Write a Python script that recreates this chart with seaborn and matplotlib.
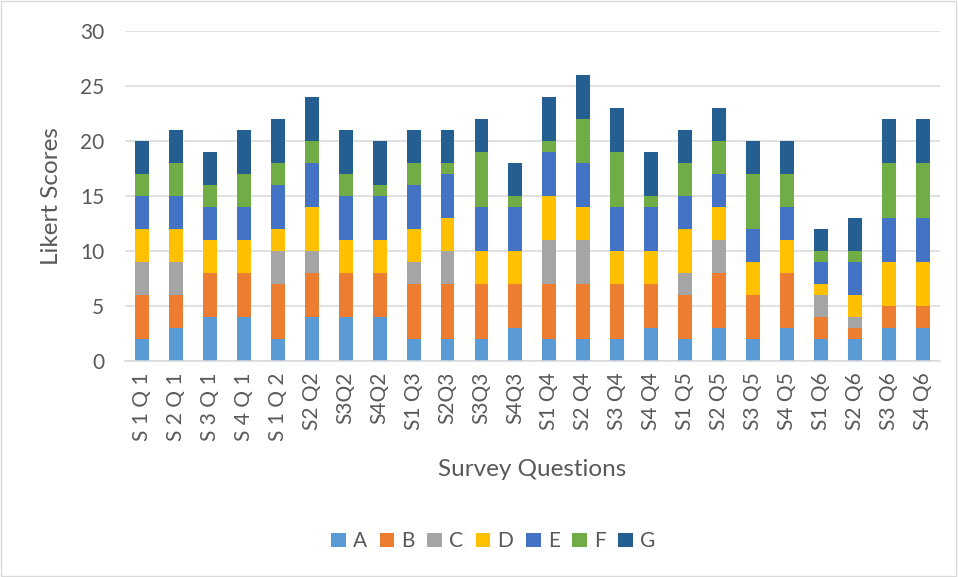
import matplotlib
matplotlib.use("Agg")
import matplotlib.pyplot as plt
import seaborn as sns
import numpy as np
import pandas as pd
from matplotlib.patches import Rectangle

categories = ["S 1 Q 1", "S 2 Q 1", "S 3 Q 1", "S 4 Q 1", "S 1 Q 2", "S2 Q2", "S3Q2", "S4Q2",
              "S1 Q3", "S2Q3", "S3Q3", "S4Q3", "S1 Q4", "S2 Q4", "S3 Q4", "S4 Q4",
              "S1 Q5", "S2 Q5", "S3 Q5", "S4 Q5", "S1 Q6", "S2 Q6", "S3 Q6", "S4 Q6"]

A = [2, 3, 4, 4, 2, 4, 4, 4, 2, 2, 2, 3, 2, 2, 2, 3, 2, 3, 2, 3, 2, 2, 3, 3]
B = [4, 3, 4, 4, 5, 4, 4, 4, 5, 5, 5, 4, 5, 5, 5, 4, 4, 5, 4, 5, 2, 1, 2, 2]
C = [3, 3, 0, 0, 3, 2, 0, 0, 2, 3, 0, 0, 4, 4, 0, 0, 2, 3, 0, 0, 2, 1, 0, 0]
D = [3, 3, 3, 3, 2, 4, 3, 3, 3, 3, 3, 3, 4, 3, 3, 3, 4, 3, 3, 3, 1, 2, 4, 4]
E = [3, 3, 3, 3, 4, 4, 4, 4, 4, 4, 4, 4, 4, 4, 4, 4, 3, 3, 3, 3, 2, 3, 4, 4]
F = [2, 3, 2, 3, 2, 2, 2, 1, 2, 1, 5, 1, 1, 4, 5, 1, 3, 3, 5, 3, 1, 1, 5, 5]
G = [3, 3, 3, 4, 4, 4, 4, 4, 3, 3, 3, 3, 4, 4, 4, 4, 3, 3, 3, 3, 2, 3, 4, 4]

series_names = ["A", "B", "C", "D", "E", "F", "G"]
series_vals = [A, B, C, D, E, F, G]
colors = ["#5B9BD5", "#ED7D31", "#A5A5A5", "#FFC000", "#4472C4", "#70AD47", "#255E91"]

df = pd.DataFrame({"Question": categories})
for n, v in zip(series_names, series_vals):
    df[n] = v

sns.set_theme(style="white")
plt.rcParams['font.family'] = ['Lato', 'DejaVu Sans']

fig = plt.figure(figsize=(9.58, 5.77), dpi=100)
ax = fig.add_axes([0.1305, 0.3744, 0.8505, 0.5716])

bottom = np.zeros(len(categories))
for n, c in zip(series_names, colors):
    sns.barplot(data=df, x="Question", y=n, bottom=bottom, color=c, width=0.41,
                ax=ax, label=n, linewidth=0, saturation=1, errorbar=None)
    bottom = bottom + df[n].values

ax.set_ylim(0, 30)
ax.set_xlim(-0.5, len(categories) - 0.5)
ax.set_yticks(range(0, 31, 5))
ax.yaxis.grid(True, color="#D9D9D9", linewidth=1.1)
ax.set_axisbelow(True)
for s in ["top", "right", "left"]:
    ax.spines[s].set_visible(False)
ax.spines["bottom"].set_color("#D9D9D9")
ax.spines["bottom"].set_linewidth(1.1)
ax.tick_params(axis="both", length=0, colors="#595959", labelsize=15)
ax.tick_params(axis="y", pad=15)
ax.tick_params(axis="x", pad=8)
plt.setp(ax.get_xticklabels(), rotation=90)
ax.set_xlabel("Survey Questions", fontsize=17.5, color="#595959", labelpad=13)
ax.set_ylabel("Likert Scores", fontsize=17.5, color="#595959")
ax.yaxis.set_label_coords(-0.077, 0.5)

handles, labels = ax.get_legend_handles_labels()
if ax.get_legend() is not None:
    ax.get_legend().remove()
fig.legend(handles, labels, loc="center", bbox_to_anchor=(0.515, 0.062), ncol=7,
           frameon=False, handlelength=0.7, handleheight=0.7, handletextpad=0.35,
           columnspacing=0.6, fontsize=15, labelcolor="#595959")

fig.patches.append(Rectangle((0.001, 0.001), 0.997, 0.997, transform=fig.transFigure,
                             fill=False, edgecolor="#D9D9D9", linewidth=1))

fig.savefig("out.png", dpi=100)
